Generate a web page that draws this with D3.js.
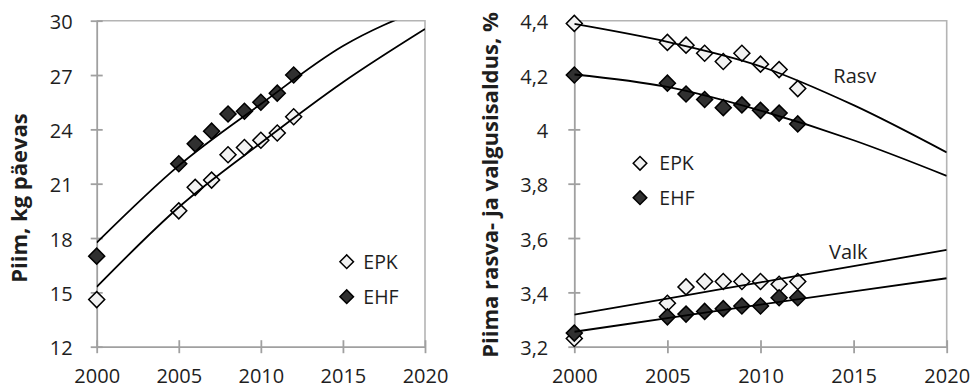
<!DOCTYPE html>
<html>
<head>
<meta charset="utf-8">
<script src="https://cdn.jsdelivr.net/npm/d3@7"></script>
<style>
  html, body { margin: 0; padding: 0; background: #fff; }
  svg { display: block; font-family: "Open Sans", sans-serif; }
</style>
</head>
<body>
<svg id="chart" width="974" height="388"></svg>
<script>
// ---------- DATA ----------
const years = [2000, 2005, 2006, 2007, 2008, 2009, 2010, 2011, 2012];
const trendYears = [2000, 2005, 2010, 2015, 2020];

// Left panel: milk yield, kg/day
const milkEPK = [14.6, 19.5, 20.8, 21.2, 22.6, 23.0, 23.4, 23.8, 24.7];
const milkEHF = [17.0, 22.1, 23.2, 23.9, 24.85, 25.0, 25.5, 26.0, 27.0];
const milkTrendEPK = [15.3, 19.7, 23.25, 26.6, 29.54];
const milkTrendEHF = [17.75, 22.0, 25.4, 28.6, 30.72];

// Right panel: fat and protein content, %
const fatEPK = [4.39, 4.32, 4.31, 4.28, 4.25, 4.28, 4.24, 4.22, 4.15];
const fatEHF = [4.20, 4.17, 4.13, 4.11, 4.08, 4.09, 4.07, 4.06, 4.02];
const protEPK = [3.23, 3.36, 3.42, 3.44, 3.44, 3.44, 3.44, 3.43, 3.44];
const protEHF = [3.25, 3.31, 3.32, 3.33, 3.34, 3.35, 3.35, 3.38, 3.38];
const fatTrendEPK = [4.388, 4.322, 4.232, 4.089, 3.915];
const fatTrendEHF = [4.202, 4.156, 4.069, 3.96, 3.829];
const protTrendEPK = [3.318, 3.377, 3.437, 3.497, 3.556];
const protTrendEHF = [3.255, 3.305, 3.355, 3.404, 3.452];

const xTicks = [2000, 2005, 2010, 2015, 2020];
const leftYTicks = [12, 15, 18, 21, 24, 27, 30];
const rightYTicks = [3.2, 3.4, 3.6, 3.8, 4.0, 4.2, 4.4];

const seriesNames = ["EPK", "EHF"];
const leftTitle = "Piim, kg päevas";
const rightTitle = "Piima rasva- ja valgusisaldus, %";
const curveLabels = ["Rasv", "Valk"];

// ---------- STYLE ----------
const AXIS = "#a0a0a0";
const BORDER = "#b4b4b4";
const TEXT = "#1e1e1e";
const FILL_EPK = "#f2f2f2";
const FILL_EHF = "#303030";
const TICK_FS = 20;

const svg = d3.select("#chart");
const etLocale = d3.formatLocale({decimal: ",", thousands: " ", grouping: [3], currency: ["", ""]});
const fmtComma = etLocale.format("~g");

const diamond = (size) => d3.symbol(d3.symbolSquare, size)();

function panel(opts) {
  const {x, y, id, yTicks, yFmt, labelPad} = opts;
  const g = svg.append("g");
  const [x0, x1] = x.range();
  const [yb, yt] = y.range();

  g.append("clipPath").attr("id", id).append("rect")
    .attr("x", x0).attr("y", yt).attr("width", x1 - x0).attr("height", yb - yt);

  g.append("path")
    .attr("d", `M${x0},${yt}H${x1}V${yb}`)
    .attr("fill", "none").attr("stroke", BORDER).attr("stroke-width", 1.6);

  const ya = g.append("g").attr("transform", `translate(${x0},0)`)
    .call(d3.axisLeft(y).tickValues(yTicks).tickFormat(yFmt).tickSizeInner(6).tickSizeOuter(0).tickPadding(labelPad));
  ya.attr("font-size", null).attr("font-family", null);
  ya.select(".domain").attr("stroke", AXIS).attr("stroke-width", 1.8);
  ya.selectAll(".tick line").attr("x1", 6).attr("x2", -6).attr("stroke", AXIS).attr("stroke-width", 1.8);
  ya.selectAll(".tick text").attr("fill", TEXT).style("font-size", TICK_FS + "px")
    .style("font-family", "'Open Sans', sans-serif").attr("dy", "0.4em");

  const xa = g.append("g").attr("transform", `translate(0,${yb})`)
    .call(d3.axisBottom(x).tickValues(xTicks).tickFormat(d3.format("d")).tickSizeInner(6).tickSizeOuter(0).tickPadding(16));
  xa.attr("font-size", null).attr("font-family", null);
  xa.select(".domain").attr("stroke", AXIS).attr("stroke-width", 1.8);
  xa.selectAll(".tick line").attr("y1", 6.5).attr("y2", -6.5).attr("stroke", AXIS).attr("stroke-width", 1.8);
  xa.selectAll(".tick text").attr("fill", TEXT).style("font-size", TICK_FS + "px")
    .style("font-family", "'Open Sans', sans-serif");

  return g;
}

function drawPoints(g, x, y, vals, fill) {
  g.append("g").selectAll("path").data(vals).join("path")
    .attr("d", diamond(128))
    .attr("transform", (d, i) => `translate(${x(years[i])},${y(d)}) rotate(45)`)
    .attr("fill", fill).attr("stroke", "#000").attr("stroke-width", 1.5);
}

function drawTrend(g, x, y, vals, clipId) {
  const line = d3.line().x((d, i) => x(trendYears[i])).y(d => y(d)).curve(d3.curveMonotoneX);
  g.append("path").datum(vals)
    .attr("d", line)
    .attr("clip-path", `url(#${clipId})`)
    .attr("fill", "none").attr("stroke", "#000").attr("stroke-width", 1.8);
}

function legend(g, cx, cy1, cy2, tx) {
  const items = [{name: seriesNames[0], fill: FILL_EPK, cy: cy1}, {name: seriesNames[1], fill: FILL_EHF, cy: cy2}];
  items.forEach(it => {
    g.append("path").attr("d", diamond(92))
      .attr("transform", `translate(${cx},${it.cy}) rotate(45)`)
      .attr("fill", it.fill).attr("stroke", "#000").attr("stroke-width", 1.5);
    g.append("text").attr("x", tx).attr("y", it.cy + 6.8).attr("fill", TEXT)
      .attr("font-size", 19.5).text(it.name);
  });
}

function yTitle(text, bx, cy, size) {
  return svg.append("text")
    .attr("transform", `translate(${bx},${cy}) rotate(-90)`)
    .attr("text-anchor", "middle")
    .attr("font-weight", "bold").attr("font-size", size).attr("fill", TEXT)
    .text(text);
}

// ---------- LEFT PANEL ----------
const xL = d3.scaleLinear().domain([2000, 2020]).range([96.7, 425]);
const yL = d3.scaleLinear().domain([12, 30]).range([346.7, 20.7]);
const gL = panel({x: xL, y: yL, id: "clipL", yTicks: leftYTicks, yFmt: d3.format("d"), labelPad: 18});
drawPoints(gL, xL, yL, milkEPK, FILL_EPK);
drawPoints(gL, xL, yL, milkEHF, FILL_EHF);
drawTrend(gL, xL, yL, milkTrendEPK, "clipL");
drawTrend(gL, xL, yL, milkTrendEHF, "clipL");
legend(gL, 346.7, 261.7, 296.7, 363.3);
yTitle(leftTitle, 26.5, 198, 22);

// ---------- RIGHT PANEL ----------
const xR = d3.scaleLinear().domain([2000, 2020]).range([574.3, 946.7]);
const yR = d3.scaleLinear().domain([3.2, 4.4]).range([346.7, 20.7]);
const gR = panel({x: xR, y: yR, id: "clipR", yTicks: rightYTicks, yFmt: fmtComma, labelPad: 20});
drawPoints(gR, xR, yR, fatEPK, FILL_EPK);
drawPoints(gR, xR, yR, fatEHF, FILL_EHF);
drawPoints(gR, xR, yR, protEPK, FILL_EPK);
drawPoints(gR, xR, yR, protEHF, FILL_EHF);
drawTrend(gR, xR, yR, fatTrendEPK, "clipR");
drawTrend(gR, xR, yR, fatTrendEHF, "clipR");
drawTrend(gR, xR, yR, protTrendEPK, "clipR");
drawTrend(gR, xR, yR, protTrendEHF, "clipR");
legend(gR, 640, 163.3, 197.7, 659.3);
yTitle(rightTitle, 497.5, 185, 22);

gR.append("text").attr("x", 833.3).attr("y", 82.7).attr("font-size", 20).attr("fill", TEXT).text(curveLabels[0]);
gR.append("text").attr("x", 829).attr("y", 259.3).attr("font-size", 20).attr("fill", TEXT).text(curveLabels[1]);
</script>
</body>
</html>
